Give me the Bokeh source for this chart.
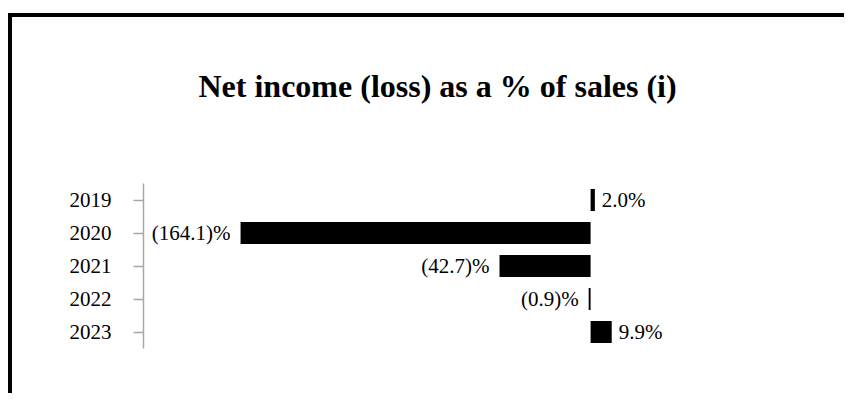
from bokeh.plotting import figure
from bokeh.models import FactorRange, Range1d, ColumnDataSource, Title
from bokeh.core.properties import value
from bokeh.embed import file_html
from bokeh.resources import INLINE

years = ["2019", "2020", "2021", "2022", "2023"]
values = [2.0, -164.1, -42.7, -0.9, 9.9]
labels = ["2.0%", "(164.1)%", "(42.7)%", "(0.9)%", "9.9%"]
title_text = "Net income (loss) as a % of sales (i)"

FONT = "Liberation Serif"

p = figure(width=836, height=380, output_backend="svg", toolbar_location=None,
           title=None,
           y_range=FactorRange(factors=years[::-1]),
           x_range=Range1d(-209.6, 98.4),
           x_axis_location=None,
           min_border_left=131, min_border_right=48,
           min_border_top=166, min_border_bottom=49)
p.outline_line_color = None
p.xgrid.visible = False
p.ygrid.visible = False
p.background_fill_color = "white"
p.border_fill_color = "white"
p.styles = {"margin-left": "8px", "margin-top": "13px",
            "border-left": "4px solid black", "border-top": "4px solid black"}

# spacer panel between the frame and the title
p.add_layout(Title(text=" ", text_font=FONT, text_font_size="32px",
                   standoff=42), "above")
p.add_layout(Title(text=title_text, text_font=FONT, text_font_size="32px",
                   text_font_style="bold", text_color="black",
                   align="left", offset=55, standoff=0), "above")

pos = [v >= 0 for v in values]
src = ColumnDataSource(dict(
    y=years, right=values, left=[0] * len(values), label=labels,
    align=["left" if q else "right" for q in pos],
    xoff=[7 if q else -10 for q in pos],
))
p.hbar(y="y", left="left", right="right", height=0.66, source=src,
       fill_color="black", line_color=None)
p.text(x="right", y="y", text="label", source=src, text_align="align",
       x_offset="xoff", text_baseline="middle", text_font=value(FONT),
       text_font_size="21px", text_color="black")

ax = p.yaxis[0]
ax.axis_line_color = "#a6a6a6"
ax.axis_line_width = 1.5
ax.major_tick_line_color = "#a6a6a6"
ax.major_tick_line_width = 1.5
ax.major_tick_out = 10
ax.major_tick_in = 0
ax.minor_tick_line_color = None
ax.major_label_standoff = 22
ax.major_label_text_font = FONT
ax.major_label_text_font_size = "21px"
ax.major_label_text_color = "black"

open("out.html", "w").write(file_html(p, INLINE))
